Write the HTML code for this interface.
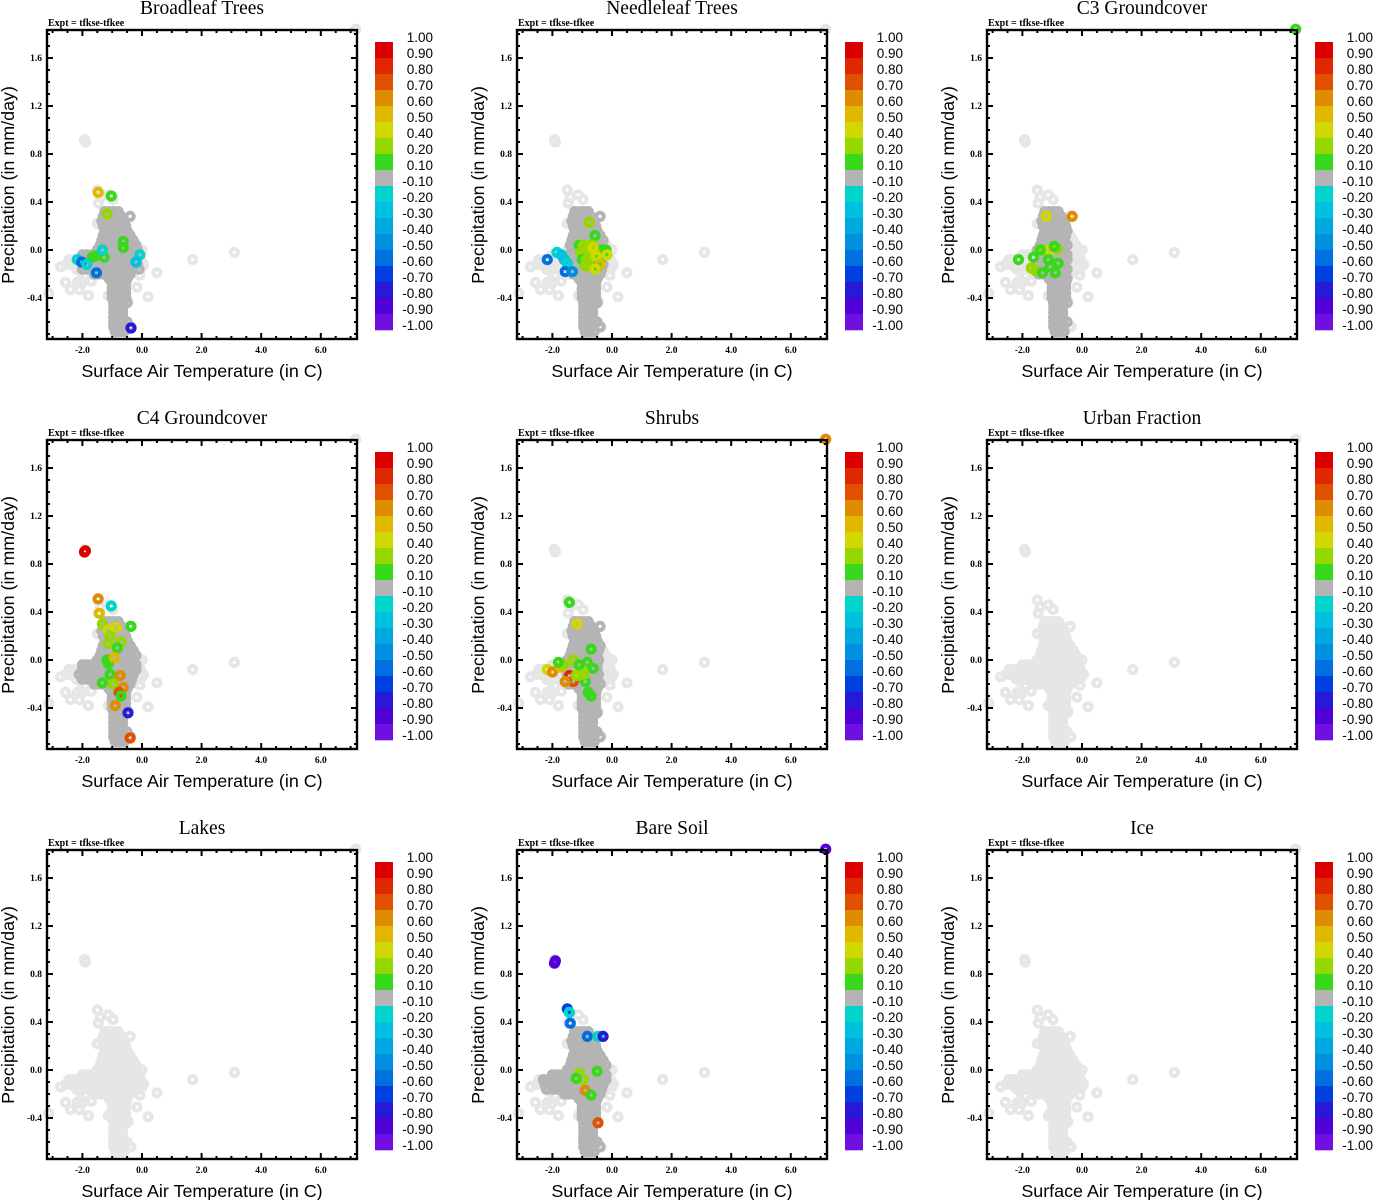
<!DOCTYPE html>
<html><head><meta charset="utf-8"><style>
html,body{margin:0;padding:0;background:#fff;}
svg{display:block;}
.ttl{font-family:"Liberation Serif",serif;font-size:19.5px;}
.expt{font-family:"Liberation Serif",serif;font-size:10px;font-weight:bold;}
.tk{font-family:"Liberation Serif",serif;font-size:9.5px;font-weight:bold;}
.ax{font-family:"Liberation Sans",sans-serif;font-size:17.9px;}
.cb{font-family:"Liberation Sans",sans-serif;font-size:13.5px;}
</style></head><body>
<svg id="fig" width="1373" height="1200" viewBox="0 0 1373 1200"></svg>
<script>
// ---- data ----
const panelTitles = ["Broadleaf Trees","Needleleaf Trees","C3 Groundcover","C4 Groundcover","Shrubs","Urban Fraction","Lakes","Bare Soil","Ice"];
const cbLabels = ["1.00","0.90","0.80","0.70","0.60","0.50","0.40","0.20","0.10","-0.10","-0.20","-0.30","-0.40","-0.50","-0.60","-0.70","-0.80","-0.90","-1.00"];
const cbLevels = [1.0,0.9,0.8,0.7,0.6,0.5,0.4,0.2,0.1,-0.1,-0.2,-0.3,-0.4,-0.5,-0.6,-0.7,-0.8,-0.9,-1.0];
const cbColors = ["#dc0000","#e02800","#e05000","#e08c00","#e0b800","#d0d800","#94d800","#38d81c","#b4b4b4","#00d4cc","#00c0e0","#00a8e0","#0090e0","#0070e0","#0040e0","#2818d8","#5000d8","#7010e0"];
const xTicks = [-2,0,2,4,6];
const xTickLabels = ["-2.0","0.0","2.0","4.0","6.0"];
const yTicks = [-0.4,0,0.4,0.8,1.2,1.6];
const yTickLabels = ["-0.4","0.0","0.4","0.8","1.2","1.6"];
// background cloud: rows of precipitation with temperatures
const cloudPrecip = [0.32,0.28,0.24,0.20,0.16,0.12,0.08,0.04,0.0,-0.04,-0.08,-0.12,-0.16,-0.20,-0.24,-0.28,-0.32,-0.36,-0.40,-0.44,-0.48,-0.52,-0.56,-0.60,-0.64,-0.68];
const cloudTemps = [
 [-1.25,-1.1,-0.95,-0.8],
 [-1.3,-1.15,-1.0,-0.85,-0.7,-0.4],
 [-1.35,-1.2,-1.05,-0.9,-0.75,-0.6],
 [-1.3,-1.15,-1.0,-0.85,-0.7,-0.55],
 [-1.25,-1.1,-0.95,-0.8,-0.65,-0.5],
 [-1.3,-1.15,-1.0,-0.85,-0.7,-0.55,-0.4],
 [-1.35,-1.2,-1.05,-0.9,-0.75,-0.6,-0.45,-0.3],
 [-1.4,-1.25,-1.1,-0.95,-0.8,-0.65,-0.5,-0.35,-0.2],
 [-1.5,-1.35,-1.2,-1.05,-0.9,-0.75,-0.6,-0.45,-0.3,-0.15,0.0],
 [-2.0,-1.85,-1.7,-1.55,-1.4,-1.25,-1.1,-0.95,-0.8,-0.65,-0.5,-0.35,-0.2],
 [-2.45,-2.3,-2.15,-2.0,-1.85,-1.7,-1.55,-1.4,-1.25,-1.1,-0.95,-0.8,-0.65,-0.5,-0.35,-0.2,-0.05],
 [-2.55,-2.4,-2.25,-2.1,-1.95,-1.8,-1.65,-1.5,-1.35,-1.2,-1.05,-0.9,-0.75,-0.6,-0.45,-0.3,-0.15,0.05],
 [-2.2,-2.0,-1.85,-1.7,-1.55,-1.4,-1.25,-1.1,-0.95,-0.8,-0.65,-0.5,-0.35,-0.1],
 [-1.6,-1.45,-1.3,-1.15,-1.0,-0.85,-0.7,-0.55,-0.4],
 [-1.1,-0.95,-0.8,-0.65,-0.5],
 [-1.0,-0.85,-0.7,-0.55],
 [-1.0,-0.85,-0.7,-0.55],
 [-1.0,-0.85,-0.7,-0.55],
 [-1.0,-0.85,-0.7,-0.55],
 [-0.95,-0.8,-0.65,-0.5],
 [-0.95,-0.8,-0.65],
 [-0.95,-0.8,-0.65],
 [-0.95,-0.8,-0.65],
 [-0.95,-0.8,-0.65,-0.5],
 [-0.95,-0.8,-0.65,-0.4],
 [-0.9,-0.75,-0.6]
];
const outlierTemp = [-1.9,-1.93,-1.5,-1.4,-1.13,-0.97,-1.47,-0.4,-1.5,3.1,1.7,-2.73,-2.57,-2.4,-2.17,-2.1,-2.03,-1.7,-1.8,-2.07,-1.9,-0.17,0.2,0.5,0.0,-0.07,-0.47,-1.13,-0.37,-3.13,7.17];
const outlierPrec = [0.9,0.92,0.5,0.44,0.46,0.42,0.39,0.28,0.22,-0.02,-0.08,-0.14,-0.27,-0.33,-0.27,-0.33,-0.28,-0.26,-0.38,-0.18,-0.21,-0.31,-0.39,-0.19,-0.14,-0.21,-0.43,-0.38,-0.64,-0.36,1.84];
// per-panel temperature range drawn in mid-gray (value near zero); null = none
const midRangeLo = [-2.0,-1.4,-1.5,-2.1,-1.5,null,null,-2.3,null];
const midRangeHi = [-0.1,-0.3,-0.5,-0.2,-0.4,null,null,-0.2,null];
// colored points per panel: temperature, precipitation, correlation value
const ptTemp = [
 [-1.47,-1.03,-1.17,-0.63,-0.63,-1.67,-1.57,-1.27,-2.17,-2.03,-1.53,-1.33,-0.07,-0.37,-1.85,-0.2],
 [-0.77,-0.57,-1.1,-0.95,-0.8,-0.65,-0.5,-0.35,-0.2,-1.05,-0.9,-0.75,-0.6,-0.45,-0.3,-1.0,-0.85,-0.7,-0.55,-0.4,-0.9,-0.75,-0.6,-0.45,-0.63,-0.53,-0.17,-0.4,-0.57,-1.85,-1.7,-1.6,-1.5,-2.17,-1.57,-1.33],
 [-1.2,-0.33,-1.3,-1.07,-0.83,-1.4,-0.93,-2.13,-1.63,-1.13,-1.7,-1.57,-1.33,-0.9,-0.8,-1.07,7.17],
 [-1.93,-1.9,-1.47,-1.03,-1.43,-1.33,-0.87,-1.13,-0.37,-1.07,-0.7,-1.13,-0.83,-1.17,-1.13,-0.93,-1.07,-0.73,-1.33,-0.97,-0.63,-0.77,-0.7,-0.9,-0.47,-0.4],
 [-1.43,-1.17,-0.7,-2.17,-2.0,-1.73,-1.43,-1.3,-1.57,-1.13,-0.63,-0.83,-1.3,-1.63,-1.8,-0.9,-0.8,-0.7,-1.0,-1.2,-1.1,-0.95,7.17],
 [],[],
 [-1.93,-1.9,-1.5,-1.43,-1.4,-0.83,-0.47,-0.3,-0.5,-1.1,-0.97,-1.2,-0.9,-0.7,-0.47,7.17],
 []
];
const ptPrec = [
 [0.48,0.45,0.3,0.07,0.02,-0.06,-0.05,-0.06,-0.08,-0.1,-0.19,0.0,-0.04,-0.65,-0.12,-0.1],
 [0.23,0.12,0.04,0.04,0.04,0.04,0.0,0.0,0.0,-0.02,-0.02,-0.02,-0.02,-0.04,-0.04,-0.08,-0.08,-0.08,-0.08,-0.08,-0.13,-0.13,-0.13,-0.13,0.02,-0.05,-0.04,-0.12,-0.16,-0.02,-0.04,-0.08,-0.11,-0.08,-0.18,-0.18],
 [0.28,0.28,0.0,0.0,0.01,0.0,0.03,-0.08,-0.06,-0.08,-0.15,-0.17,-0.19,-0.19,-0.11,-0.14,1.84],
 [0.9,0.91,0.51,0.45,0.39,0.3,0.27,0.25,0.28,0.2,0.15,0.14,0.1,0.0,-0.03,0.02,-0.12,-0.13,-0.19,-0.2,-0.23,-0.27,-0.3,-0.38,-0.44,-0.65],
 [0.48,0.3,0.09,-0.08,-0.1,-0.06,-0.13,-0.18,-0.18,-0.1,-0.07,-0.02,0.0,-0.04,-0.02,-0.18,-0.27,-0.3,-0.08,-0.13,-0.04,-0.12,1.84],
 [],[],
 [0.89,0.91,0.51,0.48,0.39,0.28,0.28,0.28,-0.01,-0.03,-0.08,-0.07,-0.17,-0.21,-0.44,1.84],
 []
];
const ptVal = [
 [0.55,0.15,0.3,0.15,0.15,0.15,0.15,0.15,-0.15,-0.55,-0.55,-0.15,-0.15,-0.75,-0.15,-0.25],
 [0.3,0.15,0.15,0.3,0.3,0.3,0.3,0.15,0.15,0.3,0.3,0.3,0.3,0.3,0.15,0.15,0.3,0.3,0.3,0.15,0.3,0.3,0.3,0.15,0.45,0.45,0.45,0.55,0.45,-0.15,-0.25,-0.25,-0.15,-0.55,-0.55,-0.45],
 [0.45,0.65,0.3,0.45,0.3,0.15,0.15,0.15,0.15,0.15,0.3,0.3,0.15,0.15,0.15,0.15,0.15],
 [0.95,0.95,0.65,-0.15,0.55,0.3,0.45,0.45,0.15,0.3,0.3,0.3,0.15,0.15,0.15,0.55,0.15,0.65,0.15,0.3,0.65,0.75,0.15,0.65,-0.75,0.75],
 [0.15,0.45,0.15,0.45,0.65,0.55,0.85,0.75,0.65,0.45,0.15,0.15,0.3,0.3,0.15,0.15,0.15,0.15,0.3,0.3,0.15,0.3,0.65],
 [],[],
 [-0.85,-0.85,-0.65,-0.15,-0.55,-0.55,-0.15,-0.75,0.15,0.3,0.3,0.15,0.65,0.15,0.75,-0.85],
 []
];
// ---- drawing ----
const NS = "http://www.w3.org/2000/svg";
const svg = document.getElementById("fig");
function mk(tag, attrs, parent, text){
  const e = document.createElementNS(NS, tag);
  for (const k in attrs) e.setAttribute(k, attrs[k]);
  if (text !== undefined) e.textContent = text;
  (parent || svg).appendChild(e);
  return e;
}
const PL = 47, PR = 357, PT = 30, PB = 339;
const X0 = 142, XS = 29.8, Y0 = 250, YS = 120;
function sx(t){ return X0 + t * XS; }
function sy(p){ return Y0 - p * YS; }
function colorOf(v){
  for (let i = 0; i < cbColors.length; i++){
    if (v <= cbLevels[i] && v >= cbLevels[i+1]) return cbColors[i];
  }
  return cbColors[8];
}
function ring(g, t, p, col){
  const c = mk("circle", {cx: sx(t).toFixed(1), cy: sy(p).toFixed(1), r: 3.6, fill: "none", stroke: col, "stroke-width": 4}, g);
  
  
}
for (let k = 0; k < 9; k++){
  const ox = (k % 3) * 470, oy = Math.floor(k / 3) * 410;
  const g = mk("g", {transform: `translate(${ox},${oy})`});
  
  
  const tt = mk("text", {x: 202, y: 14, "text-anchor": "middle", class: "ttl"}, g, panelTitles[k]);
  
  
  const ex = mk("text", {x: 48, y: 26, class: "expt"}, g, "Expt = tfkse-tfkee");
  
  
  const lo = midRangeLo[k], hi = midRangeHi[k];
  const light = "#e6e6e6", mid = "#b4b4b4";
  for (let i = 0; i < outlierTemp.length; i++) ring(g, outlierTemp[i], outlierPrec[i], light);
  const midPts = [];
  for (let r = 0; r < cloudPrecip.length; r++){
    for (const t of cloudTemps[r]){
      const isMid = lo !== null && t >= lo && t <= hi;
      if (isMid) midPts.push([t, cloudPrecip[r]]); else ring(g, t, cloudPrecip[r], light);
    }
  }
  for (const m of midPts) ring(g, m[0], m[1], mid);
  for (let i = 0; i < ptTemp[k].length; i++) ring(g, ptTemp[k][i], ptPrec[k][i], colorOf(ptVal[k][i]));
  const fr = mk("rect", {x: PL, y: PT, width: PR-PL, height: PB-PT, fill: "none", stroke: "#000", "stroke-width": 2.4}, g);
  
  
  for (let t = -3; t <= 7.01; t += 0.5){
    const isMaj = xTicks.some(v => Math.abs(v - t) < 1e-6);
    const L = isMaj ? 6 : 3;
    const x = sx(t);
    mk("line", {x1: x, x2: x, y1: PB, y2: PB - L, stroke: "#000", "stroke-width": 2}, g);
    mk("line", {x1: x, x2: x, y1: PT, y2: PT + L, stroke: "#000", "stroke-width": 2}, g);
  }
  for (let p = -0.7; p <= 1.81; p += 0.1){
    const isMaj = yTicks.some(v => Math.abs(v - p) < 1e-6);
    const L = isMaj ? 6 : 3;
    const y = sy(p);
    mk("line", {x1: PL, x2: PL + L, y1: y, y2: y, stroke: "#000", "stroke-width": 2}, g);
    mk("line", {x1: PR, x2: PR - L, y1: y, y2: y, stroke: "#000", "stroke-width": 2}, g);
  }
  xTicks.forEach((v, i) => {
    const e = mk("text", {x: sx(v), y: 353, "text-anchor": "middle", class: "tk"}, g, xTickLabels[i]);
    
    
  });
  yTicks.forEach((v, i) => {
    const e = mk("text", {x: 42, y: sy(v) + 3, "text-anchor": "end", class: "tk"}, g, yTickLabels[i]);
    
    
  });
  const xt = mk("text", {x: 202, y: 377, "text-anchor": "middle", class: "ax"}, g, "Surface Air Temperature (in C)");
  
  
  const yt = mk("text", {x: 0, y: 0, "text-anchor": "middle", class: "ax", transform: "translate(14,185) rotate(-90)"}, g, "Precipitation (in mm/day)");
  
  
  const cbg = mk("g", {}, g);
  
  
  cbColors.forEach((c, i) => {
    const r = mk("rect", {x: 375, y: 42 + i * 16, width: 18, height: 16.3, fill: c}, cbg);
    
    
  });
  cbLabels.forEach((l, i) => {
    const e = mk("text", {x: 433, y: 42 + i * 16, "text-anchor": "end", class: "cb"}, cbg, l);
    
    
  });
}
</script>
</body></html>
